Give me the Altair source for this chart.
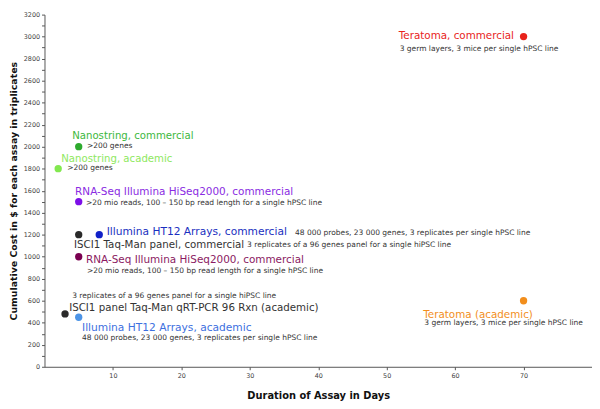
import altair as alt
import pandas as pd

# ---- points ----
pt_x = [70, 70, 5, 2, 5, 5, 8, 5, 3, 5]
pt_y = [3000, 600, 2000, 1800, 1500, 1200, 1200, 1000, 480, 450]
pt_color = ["#e8231b", "#f28e1c", "#2eaa2e", "#82e84f", "#7d0fe8",
            "#2a2a2a", "#1020c8", "#7a0050", "#2a2a2a", "#4d94e6"]

# ---- labels (anchor in data units) ----
lab_text = [
    "Teratoma, commercial",
    "3 germ layers, 3 mice per single hPSC line",
    "Nanostring, commercial",
    ">200 genes",
    "Nanostring, academic",
    ">200 genes",
    "RNA-Seq Illumina HiSeq2000, commercial",
    ">20 mio reads, 100 \u2013 150 bp read length for a single hPSC line",
    "Illumina HT12 Arrays, commercial",
    "48 000 probes, 23 000 genes, 3 replicates per single hPSC line",
    "ISCI1 Taq-Man panel, commercial",
    "3 replicates of a 96 genes panel for a single hiPSC line",
    "RNA-Seq Illumina HiSeq2000, commercial",
    ">20 mio reads, 100 \u2013 150 bp read length for a single hPSC line",
    "3 replicates of a 96 genes panel for a single hiPSC line",
    "ISCI1 panel Taq-Man qRT-PCR 96 Rxn (academic)",
    "Illumina HT12 Arrays, academic",
    "48 000 probes, 23 000 genes, 3 replicates per single hPSC line",
    "Teratoma (academic)",
    "3 germ layers, 3 mice per single hPSC line",
]
lab_x = [68.6, 51.9, 4.04, 6.2, 2.45, 3.32, 4.47, 6.05, 9.08, 36.6,
         4.32, 29.6, 6.05, 6.2, 4.04, 3.6, 5.48, 5.48, 55.35, 55.5]
lab_y = [3008, 2889, 2096, 2003, 1891, 1802, 1592, 1484, 1222, 1217,
         1105, 1105, 966, 868, 644, 537, 350, 260, 472, 394]
lab_color = ["#e8231b", "#333333", "#3db83d", "#333333", "#8ee860", "#333333",
             "#8a2be2", "#333333", "#1a2fc0", "#333333", "#333333", "#333333",
             "#8b1a62", "#333333", "#333333", "#333333", "#3d6fe0", "#333333",
             "#f28e1c", "#333333"]
lab_size = [10.5, 7.6, 10.3, 7.6, 10.3, 7.6, 10.6, 7.6, 10.8, 7.6,
            10.4, 7.6, 10.6, 7.6, 7.6, 10.4, 10.8, 7.6, 10.5, 7.6]
lab_align = ["right"] + ["left"] * 19

y_tick_values = list(range(0, 3201, 100))
x_tick_values = [10, 20, 30, 40, 50, 60, 70]

pts = pd.DataFrame({"x": pt_x, "y": pt_y, "c": pt_color})
labs = pd.DataFrame({"x": lab_x, "y": lab_y, "t": lab_text, "c": lab_color,
                     "s": lab_size, "a": lab_align})

FONT = "DejaVu Sans"

xs = alt.Scale(domain=[0, 80], nice=False, zero=False)
ys = alt.Scale(domain=[0, 3200], nice=False)

xaxis = alt.Axis(title="Duration of Assay in Days", values=x_tick_values,
                 grid=False, tickSize=3, labelFontSize=6.5, labelColor="#444",
                 labelFont=FONT, titleFont=FONT, titleFontSize=10, titleFontWeight="bold",
                 titleColor="#111", titlePadding=12, domainColor="#555", tickColor="#555",
                 labelPadding=3, labelOverlap=False)
yaxis = alt.Axis(title="Cumulative Cost in $ for each assay in triplicates",
                 values=y_tick_values,
                 labelExpr="datum.value % 200 == 0 ? datum.label : ''",
                 labelOverlap=False, labelBound=False, format="d",
                 grid=False, tickSize=3, labelFontSize=6.5, labelColor="#444",
                 labelFont=FONT, titleFont=FONT, titleFontSize=9.5, titleFontWeight="bold",
                 titleColor="#111", titlePadding=5, domainColor="#555", tickColor="#555",
                 labelPadding=2)

X = alt.X("x:Q", scale=xs, axis=xaxis)
Y = alt.Y("y:Q", scale=ys, axis=yaxis)

points = alt.Chart(pts).mark_circle(size=55, opacity=1).encode(
    x=X, y=Y, color=alt.Color("c:N", scale=None),
)

left = alt.Chart(labs).transform_filter("datum.a == 'left'").mark_text(
    align="left", baseline="middle", font=FONT).encode(
    x=X, y=Y, text="t:N",
    color=alt.Color("c:N", scale=None),
    size=alt.Size("s:Q", scale=None),
)
right = alt.Chart(labs).transform_filter("datum.a == 'right'").mark_text(
    align="right", baseline="middle", font=FONT).encode(
    x=X, y=Y, text="t:N",
    color=alt.Color("c:N", scale=None),
    size=alt.Size("s:Q", scale=None),
)

chart = alt.layer(points, left, right).properties(
    width=555, height=357,
    background="white",
    autosize=alt.AutoSizeParams(type="none"),
    padding={"left": 37, "top": 4, "right": 0, "bottom": 32},
).configure_view(stroke=None)

chart.save("out.html", embed_options={"renderer": "svg", "actions": False})
